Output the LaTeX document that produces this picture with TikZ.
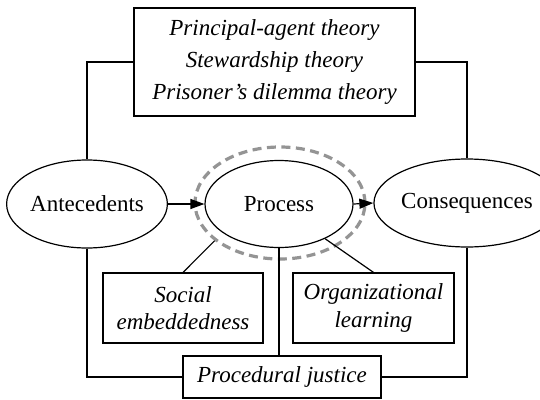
\documentclass[tikz,border=0pt]{standalone}
\usepackage{fontspec}
\setmainfont{Liberation Serif}
\usetikzlibrary{arrows.meta,shapes.geometric}
\begin{document}
\begin{tikzpicture}[x=1pt,y=-1pt,
  every node/.style={font=\fontsize{23}{27.5}\selectfont},
  conn/.style={line width=1.2pt, black},
  oval/.style={ellipse, draw, line width=1.2pt, inner sep=0pt},
  box/.style={rectangle, draw, line width=1.2pt, inner sep=0pt, align=center, font=\fontsize{23}{27.5}\selectfont\itshape},
  arr/.style={conn, -{Triangle[length=14pt,width=10pt]}}
]
\useasboundingbox (0,0) rectangle (540,399);
\node[box, minimum width=281pt, minimum height=108pt, font=\fontsize{23}{31.5}\selectfont\itshape] (top) at (274.5,62) {Principal-agent theory\\Stewardship theory\\Prisoner's dilemma theory};
\node[oval, minimum width=144pt, minimum height=88pt] (ant) at (87,204) {Antecedents};
\node[oval, minimum width=148pt, minimum height=87pt] (proc) at (279,204) {Process};
\node[oval, minimum width=140pt, minimum height=88pt] (cons) at (467,203) {Consequences};
\node[ellipse, draw=black!42, line width=3.2pt, dash pattern=on 9pt off 5.5pt, minimum width=170pt, minimum height=112pt, inner sep=0pt] (dash) at (280,203) {};
\node[box, minimum width=160pt, minimum height=70pt] (soc) at (183,308) {Social\\embeddedness};
\node[box, minimum width=161pt, minimum height=70pt] (org) at (373.5,308) {Organizational\\learning};
\node[box, minimum width=198pt, minimum height=42pt] (pj) at (282,377) {Procedural justice};
\draw[conn] (top.west) -| (ant.north);
\draw[conn] (top.east) -| (cons.north);
\draw[arr] (ant.east) -- (proc.west);
\draw[arr] (proc.east) -- (cons.west);
\draw[conn] (soc.north) -- (dash.210);
\draw[conn] (org.north) -- (proc.323);
\draw[conn] (proc.south) -- (proc.south |- pj.north);
\draw[conn] (ant.south) |- (pj.west);
\draw[conn] (cons.south) |- (pj.east);
\end{tikzpicture}
\end{document}
